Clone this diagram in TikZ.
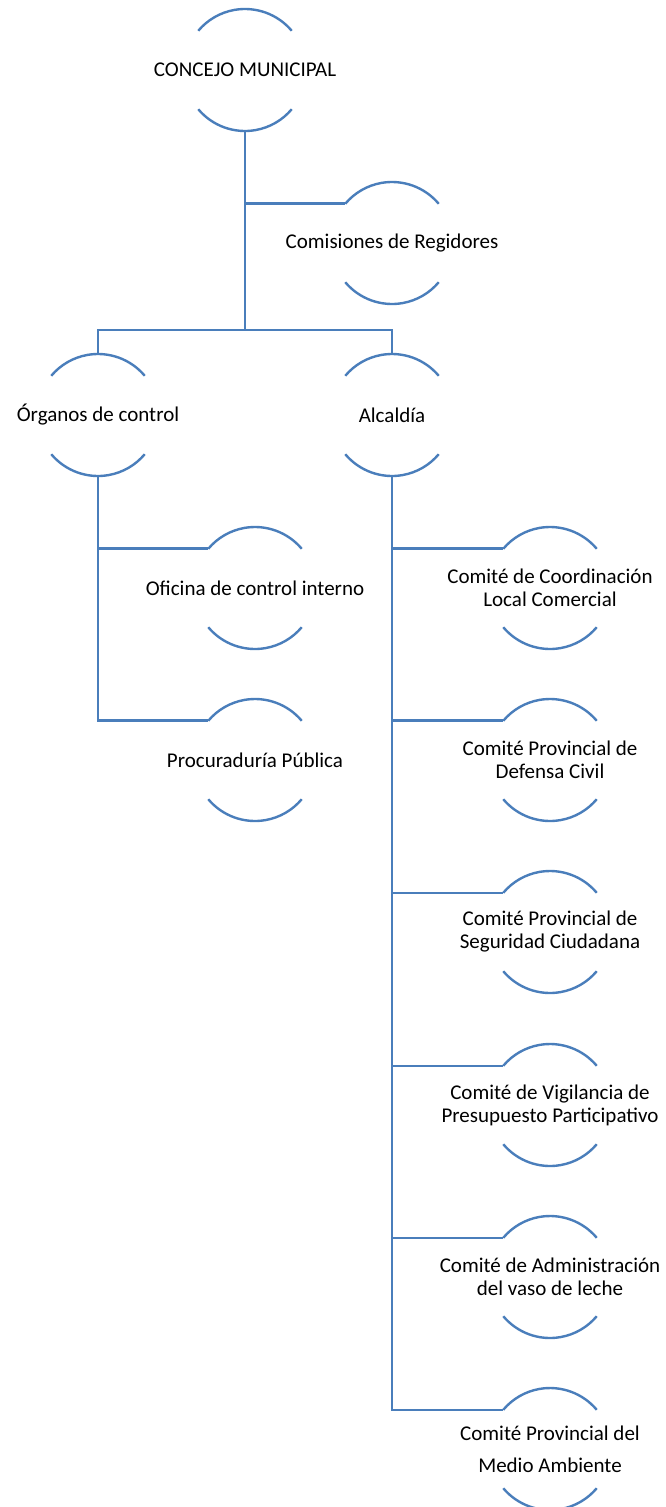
\documentclass[tikz,border=0pt]{standalone}
\usepackage{fontspec}
\setmainfont{Carlito}
\definecolor{linkblue}{HTML}{4A7EBB}
\begin{document}
\begin{tikzpicture}[x=1pt,y=1pt,
  lbl/.style={align=center,inner sep=0pt,font=\fontsize{21}{23}\selectfont},
  lbltall/.style={align=center,inner sep=0pt,font=\fontsize{21}{32}\selectfont},
  arcline/.style={draw=linkblue,line width=2.4pt},
  link/.style={draw=linkblue,line width=2.6pt}]
\useasboundingbox (0,0) rectangle (665,-1507);
% nodes
\node[lbl] (c0) at (245,-70) {CONCEJO MUNICIPAL};
\node[lbl] (c1) at (392,-243) {Comisiones de Regidores};
\node[lbl] (o) at (98,-415) {Órganos de control};
\node[lbl] (a) at (392,-415) {Alcaldía};
\node[lbl] (o1) at (255,-588) {Oficina de control interno};
\node[lbl] (o2) at (255,-760) {Procuraduría Pública};
\node[lbl] (a1) at (550,-588) {Comité de Coordinación\\Local Comercial};
\node[lbl] (a2) at (550,-760) {Comité Provincial de\\Defensa Civil};
\node[lbl] (a3) at (550,-932) {Comité Provincial de\\Seguridad Ciudadana};
\node[lbl] (a4) at (550,-1105) {Comité de Vigilancia de\\Presupuesto Participativo};
\node[lbl] (a5) at (550,-1277) {Comité de Administración\\del vaso de leche};
\node[lbltall] (a6) at (550,-1449) {Comité Provincial del\\Medio Ambiente};
% arcs
\foreach \n in {c0,c1,o,a,o1,o2,a1,a2,a3,a4,a5,a6}{
  \draw[arcline] ([shift={(40:61)}]\n.center) arc[start angle=40,end angle=140,radius=61];
  \draw[arcline] ([shift={(220:61)}]\n.center) arc[start angle=220,end angle=320,radius=61];
}
% connectors
\coordinate (j) at (245,-330);
\draw[link] ([yshift=-61]c0.center) -- (j);
\draw[link] ([yshift=-61]c0.center) |- ([shift={(140:61)}]c1.center);
\draw[link] ([yshift=61]o.center) |- (j) -| ([yshift=61]a.center);
\foreach \n in {o1,o2}{
  \draw[link] ([yshift=-61]o.center) |- ([shift={(140:61)}]\n.center);
}
\foreach \n in {a1,a2,a3,a4,a5,a6}{
  \draw[link] ([yshift=-61]a.center) |- ([shift={(140:61)}]\n.center);
}
\end{tikzpicture}
\end{document}
